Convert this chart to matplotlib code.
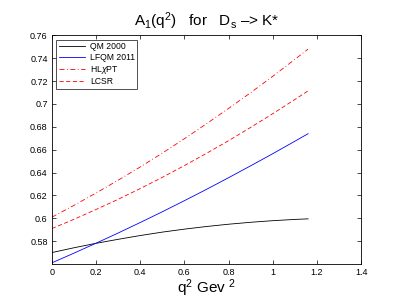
import numpy as np
import matplotlib
matplotlib.use("Agg")
import matplotlib.pyplot as plt
from matplotlib.ticker import FixedLocator, FuncFormatter

plt.rcParams['font.family'] = ['Liberation Sans', 'DejaVu Sans']
plt.rcParams['mathtext.fontset'] = 'custom'
plt.rcParams['mathtext.rm'] = 'Liberation Sans'
plt.rcParams['mathtext.it'] = 'Liberation Sans:italic'

# q^2 values (GeV^2)
q2 = [0.0, 0.1, 0.2, 0.3, 0.4, 0.5, 0.6, 0.7, 0.8, 0.9, 1.0, 1.1, 1.16]

qm2000 = [0.5700, 0.5742, 0.5781, 0.5816, 0.5849, 0.5879, 0.5905,
          0.5928, 0.5948, 0.5965, 0.5979, 0.5990, 0.5995]
lfqm2011 = [0.5610, 0.5695, 0.5782, 0.5871, 0.5963, 0.6057, 0.6154,
            0.6253, 0.6355, 0.6459, 0.6565, 0.6674, 0.6740]
hlchpt = [0.6010, 0.6113, 0.6221, 0.6333, 0.6449, 0.6570, 0.6696,
          0.6827, 0.6961, 0.7099, 0.7242, 0.7390, 0.7480]
lcsr = [0.5910, 0.5991, 0.6077, 0.6166, 0.6260, 0.6358, 0.6461,
        0.6568, 0.6679, 0.6795, 0.6915, 0.7039, 0.7115]

xticks = [0, 0.2, 0.4, 0.6, 0.8, 1.0, 1.2, 1.4]
yticks = [0.58, 0.6, 0.62, 0.64, 0.66, 0.68, 0.7, 0.72, 0.74, 0.76]

fig = plt.figure(figsize=(3.99, 3.0), dpi=100)
ax = fig.add_axes([0.130, 0.12, 0.775, 0.762])

ax.plot(q2, qm2000, color='k', lw=0.6, label='QM 2000')
ax.plot(q2, lfqm2011, color='#0000ff', lw=0.6, label='LFQM 2011')
ax.plot(q2, hlchpt, color='r', lw=0.6, ls=(0, (6, 3, 1, 3)), label=r'HL$\chi$PT')
ax.plot(q2, lcsr, color='r', lw=0.6, ls=(0, (5, 3)), label='LCSR')

ax.set_xlim(0, 1.4)
ax.set_ylim(0.56, 0.76)
ax.xaxis.set_major_locator(FixedLocator(xticks))
ax.yaxis.set_major_locator(FixedLocator(yticks))
fmt = FuncFormatter(lambda v, p: ('%g' % round(v, 2)))
ax.xaxis.set_major_formatter(fmt)
ax.yaxis.set_major_formatter(fmt)
ax.tick_params(direction='in', top=True, right=True, labelsize=6.5, length=3, width=0.5, pad=3)
for s in ax.spines.values():
    s.set_linewidth(0.6)

ax.set_title(r'A$_1$(q$^2$)   for   D$_\mathrm{s}$ –> K*', fontsize=11, pad=7)
ax.set_xlabel(r'q$^2$ Gev $^2$', fontsize=11, labelpad=0)

leg = ax.legend(loc='upper left', fontsize=6.2, frameon=True, fancybox=False,
                edgecolor='k', borderaxespad=0.5, handlelength=3.0,
                labelspacing=0.2, borderpad=0.3, handletextpad=0.6)
leg.get_frame().set_linewidth(0.6)

fig.savefig('out.png', dpi=100)
